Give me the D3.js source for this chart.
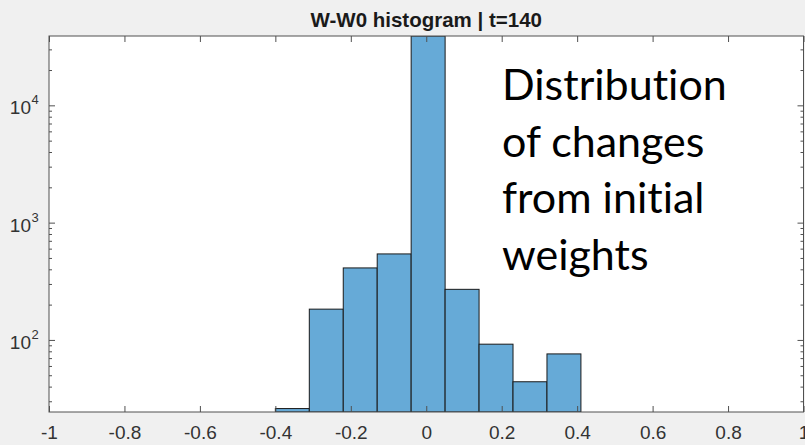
<!DOCTYPE html>
<html>
<head>
<meta charset="utf-8">
<script src="https://cdn.jsdelivr.net/npm/d3@7"></script>
<style>
  html, body { margin: 0; padding: 0; background: #f0f0f0; }
  svg { display: block; }
  .ann text { font-variant-ligatures: none; font-feature-settings: "liga" 0, "clig" 0; }
</style>
</head>
<body>
<svg id="chart" width="805" height="445"></svg>
<script>
// ---- data ----
const titleText = "W-W0 histogram | t=140";
const binStarts = [-0.40, -0.31, -0.22, -0.13, -0.04, 0.05, 0.14, 0.23, 0.32, 0.41];
const binEnds   = [-0.31, -0.22, -0.13, -0.04, 0.05, 0.14, 0.23, 0.32, 0.41, 0.50];
const binCounts = [26, 183, 411, 541, 39000, 270, 92, 44, 76, 8];
const xTicks = [-1, -0.8, -0.6, -0.4, -0.2, 0, 0.2, 0.4, 0.6, 0.8, 1];
const xTickLabels = ["-1", "-0.8", "-0.6", "-0.4", "-0.2", "0", "0.2", "0.4", "0.6", "0.8", "1"];
const yMajorTicks = [100, 1000, 10000];
const yMajorExponents = ["2", "3", "4"];
const yMinorTicks = [30, 40, 50, 60, 70, 80, 90, 200, 300, 400, 500, 600, 700, 800, 900,
                     2000, 3000, 4000, 5000, 6000, 7000, 8000, 9000, 20000, 30000];
const xLimits = [-1, 1];
const yLimits = [24.3, 39000];
const annotationLines = ["Distribution", "of changes", "from initial", "weights"];

// ---- layout ----
const L = 49, R = 803.5, T = 36, B = 412;
const svg = d3.select("#chart");
const axisColor = "#505050";
const textColor = "#333333";

const x = d3.scaleLinear().domain(xLimits).range([L, R]);
const y = d3.scaleLog().domain(yLimits).range([B, T]).clamp(true);

svg.append("rect").attr("width", 805).attr("height", 445).attr("fill", "#f0f0f0");
svg.append("rect").attr("x", L).attr("y", T).attr("width", R - L).attr("height", B - T).attr("fill", "#ffffff");

svg.append("defs").append("clipPath").attr("id", "plotclip")
  .append("rect").attr("x", L).attr("y", T).attr("width", R - L).attr("height", B - T);

// bars
const bins = binStarts.map((s, i) => ({ x0: s, x1: binEnds[i], c: binCounts[i] }));
svg.append("g").attr("clip-path", "url(#plotclip)")
  .selectAll("rect").data(bins).join("rect")
  .attr("x", d => x(d.x0))
  .attr("width", d => x(d.x1) - x(d.x0))
  .attr("y", d => y(d.c))
  .attr("height", d => y(yLimits[0]) - y(d.c))
  .attr("fill", "#66aad7")
  .attr("stroke", "#1a1a1a")
  .attr("stroke-width", 1);

// axes
function styleAxis(g) {
  g.select(".domain").remove();
  g.selectAll(".tick line").attr("stroke", axisColor);
  g.selectAll(".tick text").attr("fill", textColor);
}
const fontFam = "'Liberation Sans', Arial, sans-serif";

// bottom
const gB = svg.append("g").attr("transform", `translate(0,${B})`)
  .call(d3.axisBottom(x).tickValues(xTicks).tickSize(-6).tickPadding(14)
    .tickFormat((d, i) => xTickLabels[i]));
gB.attr("font-family", fontFam).attr("font-size", 19);
styleAxis(gB);
// top
const gT = svg.append("g").attr("transform", `translate(0,${T})`)
  .call(d3.axisTop(x).tickValues(xTicks).tickSize(-6).tickFormat(""));
styleAxis(gT);

// left
const gL = svg.append("g").attr("transform", `translate(${L},0)`)
  .call(d3.axisLeft(y).tickValues(yMajorTicks).tickSize(-6).tickFormat(""));
styleAxis(gL);
const gLm = svg.append("g").attr("transform", `translate(${L},0)`)
  .call(d3.axisLeft(y).tickValues(yMinorTicks).tickSize(-3).tickFormat(""));
styleAxis(gLm);
// right
const gR = svg.append("g").attr("transform", `translate(${R},0)`)
  .call(d3.axisRight(y).tickValues(yMajorTicks).tickSize(-6).tickFormat(""));
styleAxis(gR);
const gRm = svg.append("g").attr("transform", `translate(${R},0)`)
  .call(d3.axisRight(y).tickValues(yMinorTicks).tickSize(-3).tickFormat(""));
styleAxis(gRm);

// y labels 10^k
const yl = svg.append("g").attr("font-family", fontFam).attr("fill", textColor);
yMajorTicks.forEach((v, i) => {
  yl.append("text").attr("x", 31).attr("y", y(v) + 9)
    .attr("text-anchor", "end").attr("font-size", 19).text("10");
  yl.append("text").attr("x", 31.5).attr("y", y(v) - 1)
    .attr("font-size", 13).text(yMajorExponents[i]);
});

// box
svg.append("rect").attr("x", L).attr("y", T).attr("width", R - L).attr("height", B - T)
  .attr("fill", "none").attr("stroke", axisColor).attr("stroke-width", 1);

// title
svg.append("text").attr("x", (L + R) / 2).attr("y", 27)
  .attr("text-anchor", "middle").attr("font-family", fontFam)
  .attr("font-weight", "bold").attr("font-size", 20.5).attr("fill", "#1a1a1a")
  .text(titleText);

// annotation
const ann = svg.append("g").attr("class", "ann")
  .attr("font-family", "Lato, 'Open Sans', sans-serif")
  .attr("font-size", 43).attr("fill", "#000");
annotationLines.forEach((s, i) => {
  ann.append("text").attr("x", 502).attr("y", 100 + i * 56.7).text(s);
});
</script>
</body>
</html>
